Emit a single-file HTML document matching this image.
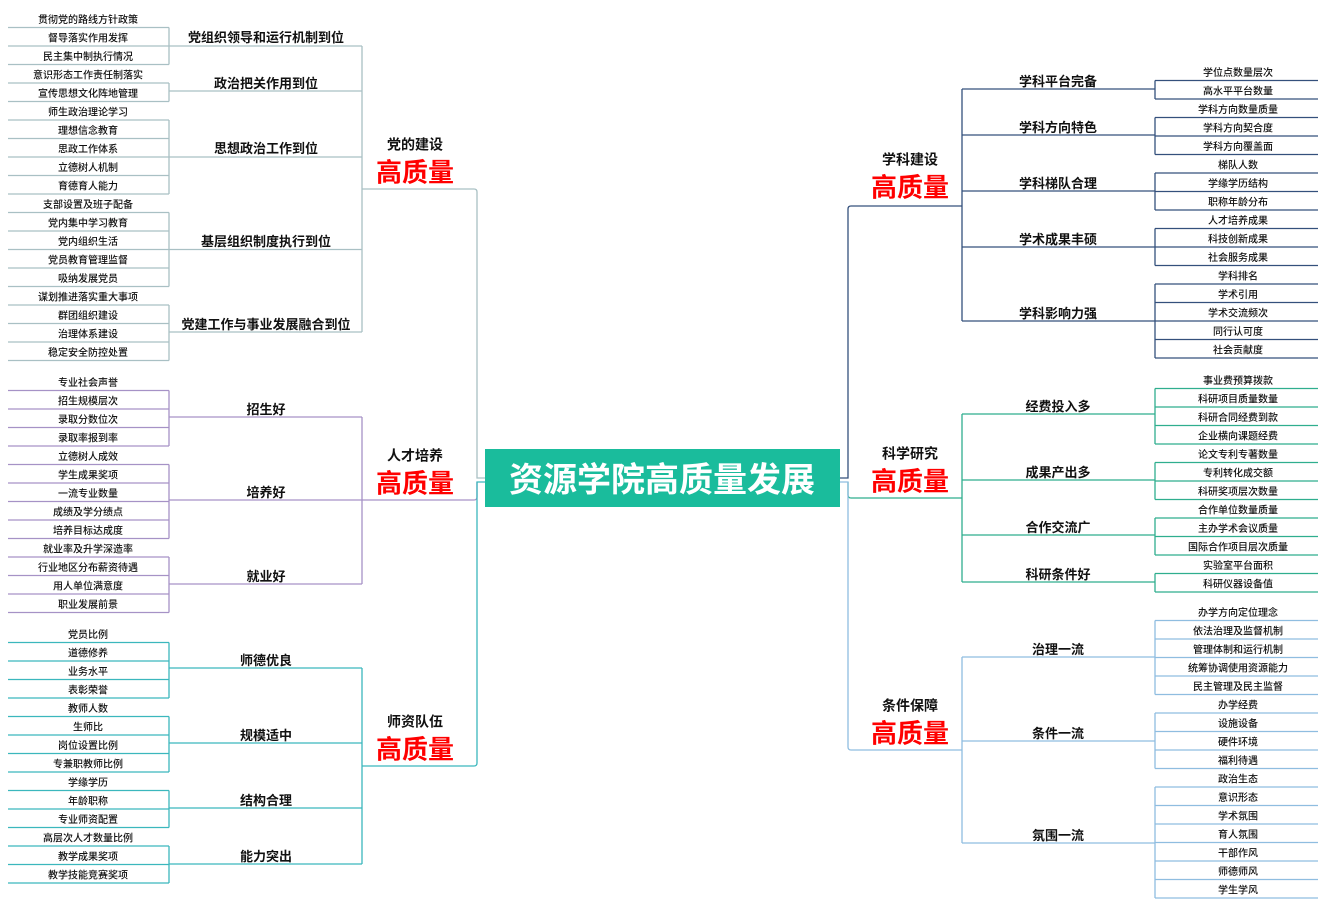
<!DOCTYPE html>
<html><head><meta charset="utf-8"><style>
html,body{margin:0;padding:0;background:#fff}
svg{display:block}
text{font-family:"Liberation Sans","Noto Sans CJK SC",sans-serif;text-anchor:middle;dominant-baseline:central;fill:#111;transform:translateY(1.5px)}
.l{font-size:10px;font-weight:500}
.m{font-size:13px;font-weight:bold}
.t{font-size:14px;font-weight:bold}
.r{font-size:26px;font-weight:bold;fill:#f00}
line,path{fill:none;stroke-width:1.3}
.pa{stroke:#a9c0c4}.pu{stroke:#a692c6}.te{stroke:#3bb7bd}
.db{stroke:#34507c}.gr{stroke:#2fae8e}.lb{stroke:#8fbde0}
</style></head><body>
<svg width="1326" height="910" viewBox="0 0 1326 910">
<path class="pa" d="M362 189 H474 Q477 189 477 192 V478 H485" stroke-width="2"/>
<path class="pu" d="M362 500 H474 Q477 500 477 497 V482" />
<path class="te" d="M362 766 H474 Q477 766 477 763 V482 H485" stroke-width="2"/>
<rect x="485" y="449" width="355" height="58" fill="#1abc9c"/>
<text x="662" y="479" style="font-size:34px;font-weight:bold;fill:#fff">资源学院高质量发展</text>
<path class="db" d="M840 478 H848 V209 Q848 206 851 206 H962" stroke-width="2"/>
<path class="gr" d="M848 482 V495 Q848 498 851 498 H962" />
<path class="lb" d="M840 482 H848 V747 Q848 750 851 750 H962" stroke-width="2"/>

<g class="pa">
<line x1="362" y1="46" x2="362" y2="332"/>
<line x1="169" y1="46" x2="362" y2="46"/><line x1="169" y1="91" x2="362" y2="91"/><line x1="169" y1="157" x2="362" y2="157"/><line x1="169" y1="249.5" x2="362" y2="249.5"/><line x1="169" y1="332" x2="362" y2="332"/>
<line x1="169" y1="27.5" x2="169" y2="64.5"/><line x1="169" y1="83" x2="169" y2="101.5"/><line x1="169" y1="120" x2="169" y2="194"/><line x1="169" y1="212.5" x2="169" y2="286.5"/><line x1="169" y1="305" x2="169" y2="360.5"/>
<path d="M8 27.5H169M8 46H169M8 64.5H169M8 83H169M8 101.5H169M8 120H169M8 138.5H169M8 157H169M8 175.5H169M8 194H169M8 212.5H169M8 231H169M8 249.5H169M8 268H169M8 286.5H169M8 305H169M8 323.5H169M8 342H169M8 360.5H169"/>
</g>
<text class="l" x="88" y="19">贯彻党的路线方针政策</text>
<text class="l" x="88" y="37.5">督导落实作用发挥</text>
<text class="l" x="88" y="56">民主集中制执行情况</text>
<text class="l" x="88" y="74.5">意识形态工作责任制落实</text>
<text class="l" x="88" y="93">宣传思想文化阵地管理</text>
<text class="l" x="88" y="111.5">师生政治理论学习</text>
<text class="l" x="88" y="130">理想信念教育</text>
<text class="l" x="88" y="148.5">思政工作体系</text>
<text class="l" x="88" y="167">立德树人机制</text>
<text class="l" x="88" y="185.5">育德育人能力</text>
<text class="l" x="88" y="204">支部设置及班子配备</text>
<text class="l" x="88" y="222.5">党内集中学习教育</text>
<text class="l" x="88" y="241">党内组织生活</text>
<text class="l" x="88" y="259.5">党员教育管理监督</text>
<text class="l" x="88" y="278">吸纳发展党员</text>
<text class="l" x="88" y="296.5">谋划推进落实重大事项</text>
<text class="l" x="88" y="315">群团组织建设</text>
<text class="l" x="88" y="333.5">治理体系建设</text>
<text class="l" x="88" y="352">稳定安全防控处置</text>
<text class="m" x="266" y="36">党组织领导和运行机制到位</text>
<text class="m" x="266" y="82">政治把关作用到位</text>
<text class="m" x="266" y="147">思想政治工作到位</text>
<text class="m" x="266" y="240">基层组织制度执行到位</text>
<text class="m" x="266" y="323">党建工作与事业发展融合到位</text>
<text class="t" x="415" y="143">党的建设</text>
<text class="r" x="415" y="171">高质量</text>

<g class="pu">
<line x1="362" y1="417" x2="362" y2="584"/>
<line x1="169" y1="417" x2="362" y2="417"/><line x1="169" y1="500" x2="362" y2="500"/><line x1="169" y1="584" x2="362" y2="584"/>
<line x1="169" y1="390.5" x2="169" y2="446"/><line x1="169" y1="464.5" x2="169" y2="538.5"/><line x1="169" y1="557" x2="169" y2="612.5"/>
<path d="M8 390.5H169M8 409H169M8 427.5H169M8 446H169M8 464.5H169M8 483H169M8 501.5H169M8 520H169M8 538.5H169M8 557H169M8 575.5H169M8 594H169M8 612.5H169"/>
</g>
<text class="l" x="88" y="382">专业社会声誉</text>
<text class="l" x="88" y="400.5">招生规模层次</text>
<text class="l" x="88" y="419">录取分数位次</text>
<text class="l" x="88" y="437.5">录取率报到率</text>
<text class="l" x="88" y="456">立德树人成效</text>
<text class="l" x="88" y="474.5">学生成果奖项</text>
<text class="l" x="88" y="493">一流专业数量</text>
<text class="l" x="88" y="511.5">成绩及学分绩点</text>
<text class="l" x="88" y="530">培养目标达成度</text>
<text class="l" x="88" y="548.5">就业率及升学深造率</text>
<text class="l" x="88" y="567">行业地区分布薪资待遇</text>
<text class="l" x="88" y="585.5">用人单位满意度</text>
<text class="l" x="88" y="604">职业发展前景</text>
<text class="m" x="266" y="408">招生好</text>
<text class="m" x="266" y="491">培养好</text>
<text class="m" x="266" y="575">就业好</text>
<text class="t" x="415" y="454">人才培养</text>
<text class="r" x="415" y="482">高质量</text>

<g class="te">
<line x1="362" y1="668" x2="362" y2="864"/>
<line x1="169" y1="668" x2="362" y2="668"/><line x1="169" y1="743" x2="362" y2="743"/><line x1="169" y1="808" x2="362" y2="808"/><line x1="169" y1="864" x2="362" y2="864"/>
<line x1="169" y1="642.5" x2="169" y2="698"/><line x1="169" y1="716.5" x2="169" y2="772"/><line x1="169" y1="790.5" x2="169" y2="827.5"/><line x1="169" y1="846" x2="169" y2="883"/>
<path d="M8 642.5H169M8 661H169M8 679.5H169M8 698H169M8 716.5H169M8 735H169M8 753.5H169M8 772H169M8 790.5H169M8 809H169M8 827.5H169M8 846H169M8 864.5H169M8 883H169"/>
</g>
<text class="l" x="88" y="634">党员比例</text>
<text class="l" x="88" y="652.5">道德修养</text>
<text class="l" x="88" y="671">业务水平</text>
<text class="l" x="88" y="689.5">表彰荣誉</text>
<text class="l" x="88" y="708">教师人数</text>
<text class="l" x="88" y="726.5">生师比</text>
<text class="l" x="88" y="745">岗位设置比例</text>
<text class="l" x="88" y="763.5">专兼职教师比例</text>
<text class="l" x="88" y="782">学缘学历</text>
<text class="l" x="88" y="800.5">年龄职称</text>
<text class="l" x="88" y="819">专业师资配置</text>
<text class="l" x="88" y="837.5">高层次人才数量比例</text>
<text class="l" x="88" y="856">教学成果奖项</text>
<text class="l" x="88" y="874.5">教学技能竞赛奖项</text>
<text class="m" x="266" y="659">师德优良</text>
<text class="m" x="266" y="734">规模适中</text>
<text class="m" x="266" y="799">结构合理</text>
<text class="m" x="266" y="855">能力突出</text>
<text class="t" x="415" y="720">师资队伍</text>
<text class="r" x="415" y="748">高质量</text>

<g class="db">
<line x1="962" y1="89" x2="962" y2="321"/>
<line x1="962" y1="89" x2="1155" y2="89"/><line x1="962" y1="135" x2="1155" y2="135"/><line x1="962" y1="191" x2="1155" y2="191"/><line x1="962" y1="247" x2="1155" y2="247"/><line x1="962" y1="321" x2="1155" y2="321"/>
<line x1="1155" y1="80.5" x2="1155" y2="99"/><line x1="1155" y1="117.5" x2="1155" y2="154.5"/><line x1="1155" y1="173" x2="1155" y2="210"/><line x1="1155" y1="228.5" x2="1155" y2="265.5"/><line x1="1155" y1="284" x2="1155" y2="358"/>
<path d="M1155 80.5H1318M1155 99H1318M1155 117.5H1318M1155 136H1318M1155 154.5H1318M1155 173H1318M1155 191.5H1318M1155 210H1318M1155 228.5H1318M1155 247H1318M1155 265.5H1318M1155 284H1318M1155 302.5H1318M1155 321H1318M1155 339.5H1318M1155 358H1318"/>
</g>
<text class="l" x="1238" y="72">学位点数量层次</text>
<text class="l" x="1238" y="90.5">高水平平台数量</text>
<text class="l" x="1238" y="109">学科方向数量质量</text>
<text class="l" x="1238" y="127.5">学科方向契合度</text>
<text class="l" x="1238" y="146">学科方向覆盖面</text>
<text class="l" x="1238" y="164.5">梯队人数</text>
<text class="l" x="1238" y="183">学缘学历结构</text>
<text class="l" x="1238" y="201.5">职称年龄分布</text>
<text class="l" x="1238" y="220">人才培养成果</text>
<text class="l" x="1238" y="238.5">科技创新成果</text>
<text class="l" x="1238" y="257">社会服务成果</text>
<text class="l" x="1238" y="275.5">学科排名</text>
<text class="l" x="1238" y="294">学术引用</text>
<text class="l" x="1238" y="312.5">学术交流频次</text>
<text class="l" x="1238" y="331">同行认可度</text>
<text class="l" x="1238" y="349.5">社会贡献度</text>
<text class="m" x="1058" y="80">学科平台完备</text>
<text class="m" x="1058" y="126">学科方向特色</text>
<text class="m" x="1058" y="182">学科梯队合理</text>
<text class="m" x="1058" y="238">学术成果丰硕</text>
<text class="m" x="1058" y="312">学科影响力强</text>
<text class="t" x="910" y="158">学科建设</text>
<text class="r" x="910" y="186">高质量</text>

<g class="gr">
<line x1="962" y1="414" x2="962" y2="582"/>
<line x1="962" y1="414" x2="1155" y2="414"/><line x1="962" y1="480" x2="1155" y2="480"/><line x1="962" y1="535" x2="1155" y2="535"/><line x1="962" y1="582" x2="1155" y2="582"/>
<line x1="1155" y1="388.5" x2="1155" y2="444"/><line x1="1155" y1="462.5" x2="1155" y2="499.5"/><line x1="1155" y1="518" x2="1155" y2="555"/><line x1="1155" y1="573.5" x2="1155" y2="592"/>
<path d="M1155 388.5H1318M1155 407H1318M1155 425.5H1318M1155 444H1318M1155 462.5H1318M1155 481H1318M1155 499.5H1318M1155 518H1318M1155 536.5H1318M1155 555H1318M1155 573.5H1318M1155 592H1318"/>
</g>
<text class="l" x="1238" y="380">事业费预算拨款</text>
<text class="l" x="1238" y="398.5">科研项目质量数量</text>
<text class="l" x="1238" y="417">科研合同经费到款</text>
<text class="l" x="1238" y="435.5">企业横向课题经费</text>
<text class="l" x="1238" y="454">论文专利专著数量</text>
<text class="l" x="1238" y="472.5">专利转化成交额</text>
<text class="l" x="1238" y="491">科研奖项层次数量</text>
<text class="l" x="1238" y="509.5">合作单位数量质量</text>
<text class="l" x="1238" y="528">主办学术会议质量</text>
<text class="l" x="1238" y="546.5">国际合作项目层次质量</text>
<text class="l" x="1238" y="565">实验室平台面积</text>
<text class="l" x="1238" y="583.5">科研仪器设备值</text>
<text class="m" x="1058" y="405">经费投入多</text>
<text class="m" x="1058" y="471">成果产出多</text>
<text class="m" x="1058" y="526">合作交流广</text>
<text class="m" x="1058" y="573">科研条件好</text>
<text class="t" x="910" y="452">科学研究</text>
<text class="r" x="910" y="480">高质量</text>

<g class="lb">
<line x1="962" y1="657" x2="962" y2="843"/>
<line x1="962" y1="657" x2="1155" y2="657"/><line x1="962" y1="741" x2="1155" y2="741"/><line x1="962" y1="843" x2="1155" y2="843"/>
<line x1="1155" y1="620.5" x2="1155" y2="694.5"/><line x1="1155" y1="713" x2="1155" y2="768.5"/><line x1="1155" y1="787" x2="1155" y2="898"/>
<path d="M1155 620.5H1318M1155 639H1318M1155 657.5H1318M1155 676H1318M1155 694.5H1318M1155 713H1318M1155 731.5H1318M1155 750H1318M1155 768.5H1318M1155 787H1318M1155 805.5H1318M1155 824H1318M1155 842.5H1318M1155 861H1318M1155 879.5H1318M1155 898H1318"/>
</g>
<text class="l" x="1238" y="612">办学方向定位理念</text>
<text class="l" x="1238" y="630.5">依法治理及监督机制</text>
<text class="l" x="1238" y="649">管理体制和运行机制</text>
<text class="l" x="1238" y="667.5">统筹协调使用资源能力</text>
<text class="l" x="1238" y="686">民主管理及民主监督</text>
<text class="l" x="1238" y="704.5">办学经费</text>
<text class="l" x="1238" y="723">设施设备</text>
<text class="l" x="1238" y="741.5">硬件环境</text>
<text class="l" x="1238" y="760">福利待遇</text>
<text class="l" x="1238" y="778.5">政治生态</text>
<text class="l" x="1238" y="797">意识形态</text>
<text class="l" x="1238" y="815.5">学术氛围</text>
<text class="l" x="1238" y="834">育人氛围</text>
<text class="l" x="1238" y="852.5">干部作风</text>
<text class="l" x="1238" y="871">师德师风</text>
<text class="l" x="1238" y="889.5">学生学风</text>
<text class="m" x="1058" y="648">治理一流</text>
<text class="m" x="1058" y="732">条件一流</text>
<text class="m" x="1058" y="834">氛围一流</text>
<text class="t" x="910" y="704">条件保障</text>
<text class="r" x="910" y="732">高质量</text>
</svg>
</body></html>
